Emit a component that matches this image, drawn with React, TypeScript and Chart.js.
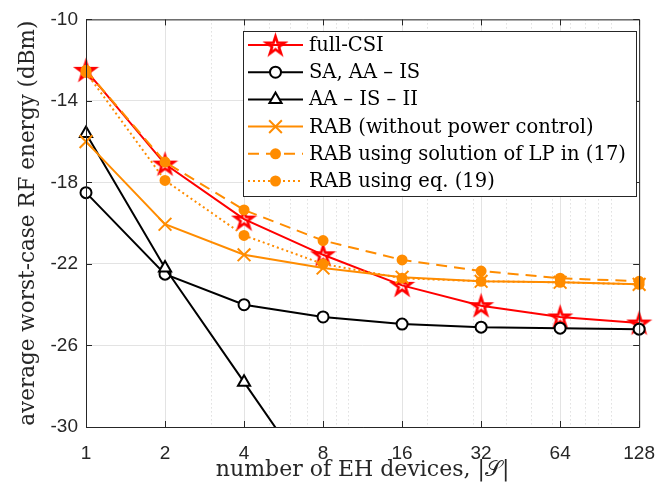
import React, { useEffect, useRef } from 'react';
import { Chart, registerables } from 'chart.js';
import { drawPoint } from 'chart.js/helpers';
Chart.register(...registerables);

// ---------------- data ----------------
const xValues = [1, 2, 4, 8, 16, 32, 64, 128];
const fullCSI = [-12.5, -17.1, -19.8, -21.55, -23.05, -24.05, -24.6, -24.9];
const saAAIS = [-18.5, -22.5, -24.0, -24.6, -24.95, -25.1, -25.15, -25.2];
const aaISII = [-15.6, -22.2, -27.8, -33.4, null, null, null, null];
const rabNoPC = [-16.0, -20.05, -21.55, -22.2, -22.65, -22.85, -22.9, -23.0];
const rabLP = [-12.5, -17.0, -19.35, -20.85, -21.8, -22.35, -22.7, -22.85];
const rabEq19 = [-12.6, -17.9, -20.6, -22.0, -22.7, -22.85, -22.9, -23.0];

const seriesLabels = [
  'full-CSI',
  'SA, AA \u2013 IS',
  'AA \u2013 IS \u2013 II',
  'RAB (without power control)',
  'RAB using solution of LP in (17)',
  'RAB using eq. (19)',
];
const xMajorTicks = [1, 2, 4, 8, 16, 32, 64, 128];
const xMinorTicks = [3, 5, 6, 7, 9, 10, 20, 30, 40, 50, 60, 70, 80, 90, 100];
const yTicks = [-30, -26, -22, -18, -14, -10];
const xTitle = 'number of EH devices, |\uD835\uDCAE|';
const yTitle = 'average worst-case RF energy (dBm)';

const RED = '#ff0000';
const ORANGE = '#ff8c00';
const BLACK = '#000000';
const AXIS = '#262626';
const SERIF = '"DejaVu Serif", serif';
const SANS = '"Liberation Sans", Arial, sans-serif';

function makeStar(color: string, R: number, r: number, lw: number) {
  const size = Math.ceil(2 * R + lw * 2 + 2);
  const c = document.createElement('canvas');
  c.width = size;
  c.height = size;
  const g = c.getContext('2d')!;
  const cx = size / 2;
  const cy = size / 2 + 0.8;
  g.beginPath();
  for (let k = 0; k < 10; k++) {
    const a = -Math.PI / 2 + (k * Math.PI) / 5;
    const rr = k % 2 === 0 ? R : r;
    const px = cx + rr * Math.cos(a);
    const py = cy + rr * Math.sin(a);
    if (k === 0) g.moveTo(px, py);
    else g.lineTo(px, py);
  }
  g.closePath();
  g.strokeStyle = color;
  g.lineWidth = lw;
  g.lineJoin = 'miter';
  g.stroke();
  return c;
}

export default function App() {
  const ref = useRef<HTMLCanvasElement>(null);

  useEffect(() => {
    const star = makeStar(RED, 9.5, 3.6, 2.6);

    const mk = (i: number, d: (number | null)[], color: string, extra: any) => ({
      label: seriesLabels[i],
      data: xValues.map((x, k) => ({ x, y: d[k] })),
      borderColor: color,
      backgroundColor: color,
      borderWidth: 2,
      pointBorderColor: color,
      pointBorderWidth: 2,
      pointBackgroundColor: color,
      order: -i,
      clip: { left: false, top: false, right: false, bottom: false },
      spanGaps: false,
      ...extra,
    });

    const datasets: any[] = [
      mk(0, fullCSI, RED, { pointStyle: star, pointRadius: 9 }),
      mk(1, saAAIS, BLACK, { pointStyle: 'circle', pointRadius: 5.5, pointBackgroundColor: '#ffffff' }),
      mk(2, aaISII, BLACK, {
        pointStyle: 'triangle',
        pointRadius: 7,
        pointBackgroundColor: '#ffffff',
        clip: { left: false, top: false, right: false, bottom: 0 },
      }),
      mk(3, rabNoPC, ORANGE, { pointStyle: 'crossRot', pointRadius: 9 }),
      mk(4, rabLP, ORANGE, { pointStyle: 'circle', pointRadius: 4.5, borderDash: [11, 7] }),
      mk(5, rabEq19, ORANGE, { pointStyle: 'circle', pointRadius: 4.5, borderDash: [2, 3] }),
    ];

    const framePlugin = {
      id: 'frame',
      afterDatasetsDraw(chart: any) {
        const { ctx, chartArea: a, scales } = chart;
        ctx.save();
        ctx.strokeStyle = AXIS;
        ctx.lineWidth = 1;
        ctx.beginPath();
        ctx.rect(a.left + 0.5, a.top + 0.5, a.right - a.left, a.bottom - a.top);
        ctx.stroke();
        const tl = 6;
        ctx.beginPath();
        xMajorTicks.forEach((v) => {
          const px = Math.round(scales.x.getPixelForValue(v)) + 0.5;
          ctx.moveTo(px, a.bottom);
          ctx.lineTo(px, a.bottom - tl);
          ctx.moveTo(px, a.top);
          ctx.lineTo(px, a.top + tl);
        });
        yTicks.forEach((v) => {
          const py = Math.round(scales.y.getPixelForValue(v)) + 0.5;
          ctx.moveTo(a.left, py);
          ctx.lineTo(a.left + tl, py);
          ctx.moveTo(a.right, py);
          ctx.lineTo(a.right - tl, py);
        });
        ctx.stroke();
        ctx.restore();
      },
      afterDraw(chart: any) {
        const { ctx } = chart;
        const bx = 243, by = 31, bw = 393, bh = 165;
        ctx.save();
        ctx.fillStyle = '#ffffff';
        ctx.fillRect(bx, by, bw, bh);
        ctx.strokeStyle = AXIS;
        ctx.lineWidth = 1;
        ctx.strokeRect(bx + 0.5, by + 0.5, bw, bh);
        const rowH = 27.2;
        chart.data.datasets.forEach((ds: any, i: number) => {
          const cy = by + 14 + i * rowH;
          ctx.save();
          ctx.strokeStyle = ds.borderColor;
          ctx.lineWidth = ds.borderWidth;
          ctx.setLineDash(ds.borderDash || []);
          ctx.beginPath();
          ctx.moveTo(248, cy);
          ctx.lineTo(303, cy);
          ctx.stroke();
          ctx.setLineDash([]);
          ctx.strokeStyle = ds.pointBorderColor;
          ctx.fillStyle = ds.pointBackgroundColor;
          ctx.lineWidth = ds.pointBorderWidth;
          drawPoint(ctx, { pointStyle: ds.pointStyle, radius: ds.pointRadius, rotation: 0, borderWidth: ds.pointBorderWidth }, 275.5, cy);
          ctx.restore();
          ctx.fillStyle = '#000000';
          ctx.font = `19.5px ${SERIF}`;
          ctx.textBaseline = 'middle';
          ctx.textAlign = 'left';
          ctx.fillText(ds.label, 309, cy + 1);
        });
        ctx.restore();
      },
    };

    const chart = new Chart(ref.current!, {
      type: 'line',
      data: { datasets },
      options: {
        animation: false,
        responsive: false,
        devicePixelRatio: 1,
        layout: { padding: { left: 0, right: 20, top: 15, bottom: 0 } },
        plugins: { legend: { display: false }, tooltip: { enabled: false } },
        elements: { line: { tension: 0 } },
        scales: {
          x: {
            type: 'logarithmic',
            min: 1,
            max: 128,
            afterBuildTicks: (s: any) => {
              s.ticks = [...xMajorTicks, ...xMinorTicks].sort((a, b) => a - b).map((v) => ({ value: v }));
            },
            afterFit: (s: any) => {
              s.height = 65;
            },
            ticks: {
              autoSkip: false,
              maxRotation: 0,
              padding: 15,
              color: AXIS,
              font: { family: SANS, size: 19 },
              callback: (v: any) => (xMajorTicks.includes(Number(v)) ? String(v) : ''),
            },
            grid: {
              drawTicks: false,
              color: (c: any) => (xMajorTicks.includes(c.tick?.value) ? '#e3e3e3' : '#cfcfcf'),
              lineWidth: 1,
            },
            border: {
              display: false,
              dash: (c: any) => (xMajorTicks.includes(c.tick?.value) ? [] : [1, 3]),
            },
            title: {
              display: true,
              text: xTitle,
              color: AXIS,
              font: { family: SERIF, size: 22 },
              padding: { top: 0, bottom: 9 },
            },
          },
          y: {
            type: 'linear',
            min: -30,
            max: -10,
            afterBuildTicks: (s: any) => {
              s.ticks = yTicks.map((v) => ({ value: v }));
            },
            afterFit: (s: any) => {
              s.width = 86;
            },
            ticks: {
              padding: 8,
              color: AXIS,
              font: { family: SANS, size: 19 },
            },
            grid: { drawTicks: false, color: '#e3e3e3', lineWidth: 1 },
            border: { display: false },
            title: {
              display: true,
              text: yTitle,
              color: AXIS,
              font: { family: SERIF, size: 21.5 },
              padding: { top: 16, bottom: 0 },
            },
          },
        },
      },
      plugins: [framePlugin],
    } as any);
    return () => chart.destroy();
  }, []);

  return (
    <div style={{ position: 'fixed', left: 0, top: 0, width: 670, height: 492, background: '#fff' }}>
      <canvas ref={ref} width={670} height={492} />
    </div>
  );
}
